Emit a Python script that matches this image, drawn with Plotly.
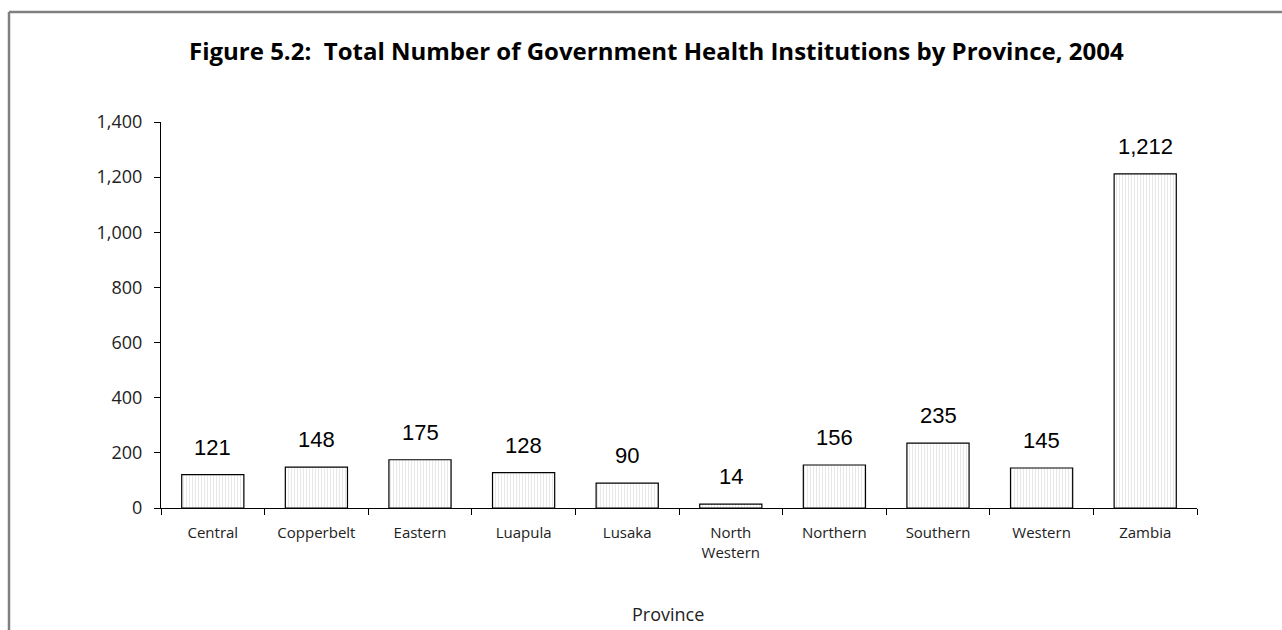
import plotly.graph_objects as go

provinces = ["Central", "Copperbelt", "Eastern", "Luapula", "Lusaka",
             "North<br>Western", "Northern", "Southern", "Western", "Zambia"]
institutions = [121, 148, 175, 128, 90, 14, 156, 235, 145, 1212]
y_ticks = [0, 200, 400, 600, 800, 1000, 1200, 1400]

W, H = 1282, 630
L, R, T, B = 161, 85, 122, 122
pw, ph = W - L - R, H - T - B


def px_to_paper(x=None, y=None):
    if x is not None:
        return (x - L) / pw
    return (H - B - y) / ph


label_font = "'Open Sans', Lato, sans-serif"

fig = go.Figure()
fig.add_trace(go.Bar(
    x=provinces,
    y=institutions,
    marker=dict(
        color="white",
        line=dict(color="black", width=1.2),
        pattern=dict(shape="|", fgcolor="#cdcdcd", bgcolor="white",
                     size=3, solidity=0.3),
    ),
    hoverinfo="x+y",
))

# value labels above each bar
for p, v in zip(provinces, institutions):
    fig.add_annotation(x=p, y=v, text=f"{v:,}", showarrow=False,
                       yanchor="bottom", yshift=13,
                       font=dict(family="'Liberation Sans', Arial, sans-serif",
                                 size=22, color="black"))

# title
fig.add_annotation(xref="paper", yref="paper",
                   x=px_to_paper(x=656), y=px_to_paper(y=50),
                   text="<b>Figure 5.2:  Total Number of Government Health Institutions by Province, 2004</b>",
                   showarrow=False, xanchor="center", yanchor="middle",
                   font=dict(family=label_font, size=24, color="black"))

# axis title
fig.add_annotation(xref="paper", yref="paper",
                   x=px_to_paper(x=668), y=px_to_paper(y=614),
                   text="Province", showarrow=False,
                   xanchor="center", yanchor="middle",
                   font=dict(family=label_font, size=18, color="#222"))

# frame around the figure
frame = dict(type="line", xref="paper", yref="paper",
             line=dict(color="#808080", width=2.5))
fig.add_shape(**frame, x0=px_to_paper(x=9), x1=px_to_paper(x=9),
              y0=px_to_paper(y=12), y1=px_to_paper(y=H + 5))
fig.add_shape(**frame, x0=px_to_paper(x=9), x1=px_to_paper(x=W + 5),
              y0=px_to_paper(y=12), y1=px_to_paper(y=12))

fig.update_layout(
    width=W, height=H,
    margin=dict(l=L, r=R, t=T, b=B),
    paper_bgcolor="white", plot_bgcolor="white",
    bargap=0.4,
    showlegend=False,
    font=dict(family=label_font, color="#222"),
)
fig.update_xaxes(
    showline=True, linecolor="black", linewidth=1.2,
    ticks="outside", tickson="boundaries", ticklen=6, tickcolor="black",
    tickfont=dict(family=label_font, size=15, color="#222"),
    ticklabelstandoff=11,
    showgrid=False, fixedrange=True,
)
fig.update_yaxes(
    range=[0, 1400], tickvals=y_ticks,
    ticktext=[f"{t:,}" for t in y_ticks],
    showline=True, linecolor="black", linewidth=1.2,
    ticks="outside", ticklen=6, tickcolor="black",
    tickfont=dict(family=label_font, size=18, color="#222"),
    ticklabelstandoff=8,
    showgrid=False, zeroline=False, fixedrange=True,
)

fig.write_html("out.html")
